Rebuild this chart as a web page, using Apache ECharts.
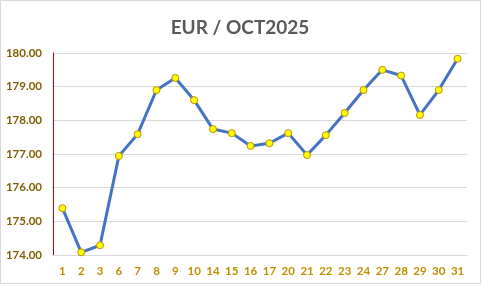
<!DOCTYPE html>
<html><head><meta charset="utf-8">
<script src="https://cdn.jsdelivr.net/npm/echarts@6/dist/echarts.min.js"></script>
<style>html,body{margin:0;padding:0;background:#fff}#c{width:482px;height:287px}</style>
</head><body><div id="c"></div>
<script>
const titleText = 'EUR / OCT2025';
const days = ['1','2','3','6','7','8','9','10','14','15','16','17','20','21','22','23','24','27','28','29','30','31'];
const rates = [175.39,174.08,174.29,176.94,177.59,178.90,179.26,178.60,177.74,177.62,177.24,177.32,177.62,176.97,177.56,178.22,178.90,179.50,179.33,178.16,178.90,179.83];
const yMin = 174, yMax = 180, yStep = 1;

const chart = echarts.init(document.getElementById('c'), null, {renderer:'canvas'});
chart.setOption({
  animation:false,
  backgroundColor:'#fff',
  graphic:[{type:'rect',shape:{x:0.5,y:0.5,width:480,height:283},style:{fill:'none',stroke:'#d9d9d9',lineWidth:1},silent:true}],
  title:{text:titleText,left:235,textAlign:'center',top:13,textStyle:{fontFamily:'Lato',fontWeight:'bold',fontSize:19,color:'#595959'}},
  grid:{left:53,right:15,top:53,bottom:32,containLabel:false},
  xAxis:{type:'category',data:days,boundaryGap:true,
    axisLine:{lineStyle:{color:'#d9d9d9',width:1}},axisTick:{show:false},
    axisLabel:{color:'#BF9000',fontFamily:'Lato',fontWeight:'bold',fontSize:11.5,margin:10,interval:0}},
  yAxis:{type:'value',min:yMin,max:yMax,interval:yStep,
    axisLine:{show:true,lineStyle:{color:'#C00000',width:1}},axisTick:{show:false},
    splitLine:{lineStyle:{color:'#d9d9d9',width:1}},
    axisLabel:{color:'#7F6000',fontFamily:'Lato',fontWeight:'bold',fontSize:11.5,margin:11,formatter:v=>v.toFixed(2)}},
  series:[{type:'line',data:rates,lineStyle:{color:'#4472C4',width:3},
    symbol:'circle',symbolSize:7,itemStyle:{color:'#FFFF00',borderColor:'#BF9000',borderWidth:1},z:3}]
});
</script></body></html>
